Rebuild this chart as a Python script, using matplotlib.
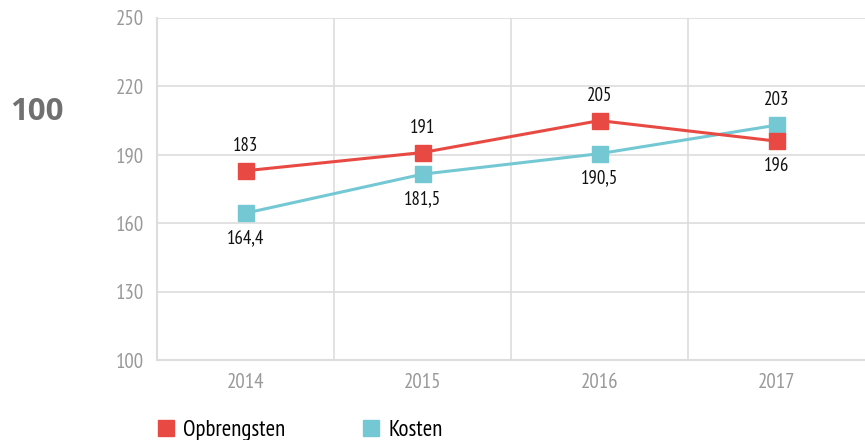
import matplotlib
matplotlib.use("Agg")
import matplotlib.pyplot as plt
from matplotlib.lines import Line2D
from matplotlib.ticker import FixedLocator

plt.rcParams['font.family'] = ['PT Sans Narrow', 'DejaVu Sans']

years = ["2014", "2015", "2016", "2017"]
opbrengsten = [183, 191, 205, 196]
kosten = [164.4, 181.5, 190.5, 203]
opb_labels = ["183", "191", "205", "196"]
kos_labels = ["164,4", "181,5", "190,5", "203"]
# label placement per point: +1 above, -1 below
opb_side = [1, 1, 1, -1]
kos_side = [-1, -1, -1, 1]
yticks = [100, 130, 160, 190, 220, 250]

RED = "#E84A43"
TEAL = "#74C8D4"
GRID = "#DDDDDD"
TICK = "#999999"

fig = plt.figure(figsize=(8.65, 4.4), dpi=100)
ax = fig.add_axes([157 / 865, 80 / 440, 708 / 865, 342 / 440])

x = list(range(len(years)))
ax.plot(x, kosten, color=TEAL, lw=2.2, marker="s", ms=12.2, zorder=3)
ax.plot(x, opbrengsten, color=RED, lw=2.2, marker="s", ms=12.2, zorder=4)

def annotate(vals, labels, sides):
    for xi, v, lab, s in zip(x, vals, labels, sides):
        ax.annotate(lab, (xi, v), xytext=(0, 18 * s), textcoords="offset points",
                    ha="center", va="center", fontsize=13.5, color="#111111")

annotate(opbrengsten, opb_labels, opb_side)
annotate(kosten, kos_labels, kos_side)

ax.set_xlim(-0.5, len(years) - 0.5)
ax.set_ylim(100, 250)
ax.set_yticks(yticks)
ax.set_xticks(x)
ax.set_xticklabels(years)
ax.xaxis.set_minor_locator(FixedLocator([i + 0.5 for i in range(len(years) - 1)]))
ax.grid(True, axis="y", which="major", color=GRID, lw=1.2)
ax.grid(True, axis="x", which="minor", color=GRID, lw=1.2)
ax.grid(False, axis="x", which="major")
ax.tick_params(axis="both", which="both", length=0, labelsize=15, labelcolor=TICK)
ax.tick_params(axis="y", pad=9.5)
ax.tick_params(axis="x", pad=9)
for side in ["top", "right"]:
    ax.spines[side].set_visible(False)
for side in ["left", "bottom"]:
    ax.spines[side].set_color(GRID)
    ax.spines[side].set_linewidth(1.5)
ax.set_axisbelow(True)

fig.text(37 / 865, 1 - 112 / 440, "100", fontsize=22.5, fontweight="bold", color="#707070",
         family=["Open Sans", "DejaVu Sans"], ha="center", va="center")

handles = [Line2D([], [], ls="none", marker="s", ms=12.2, color=RED),
           Line2D([], [], ls="none", marker="s", ms=12.2, color=TEAL)]
fig.legend(handles, ["Opbrengsten", "Kosten"], loc="center left",
           bbox_to_anchor=(157 / 865, 10 / 440), ncol=2, frameon=False, fontsize=16.5,
           borderpad=0, borderaxespad=0,
           handlelength=0.75, handletextpad=0.4, columnspacing=3.35)

fig.savefig("out.png", dpi=100)
